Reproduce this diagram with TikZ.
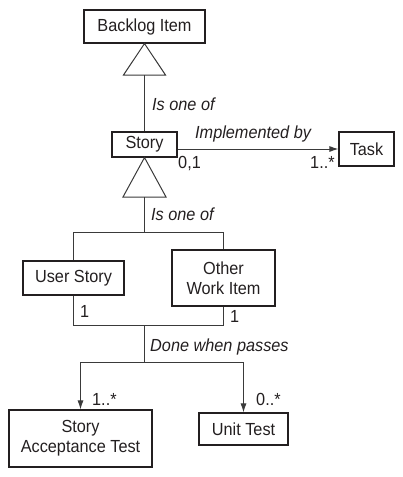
\documentclass[tikz,border=0pt]{standalone}
\usepackage{fontspec}
\setmainfont{Liberation Sans}[FakeStretch=0.93]
\usetikzlibrary{arrows.meta}
\definecolor{ink}{HTML}{231F20}
\definecolor{wire}{HTML}{3A3A3A}
\begin{document}
\begin{tikzpicture}[x=1pt,y=-1pt,
  font=\fontsize{17.5}{20}\selectfont, text=ink,
  box/.style={draw=ink, line width=1.1pt, inner sep=0pt, align=center},
  wire/.style={draw=wire, line width=1pt},
  arr/.style={wire, -{Latex[length=9pt,width=6pt]}},
  lab/.style={anchor=base west, inner sep=0pt},
  ilab/.style={anchor=base west, inner sep=0pt, font=\fontsize{17.5}{20}\selectfont\itshape}]
\useasboundingbox (0,0) rectangle (402,477);

\node[box, minimum width=121pt, minimum height=33pt] (bi) at (144.5,26.5) {Backlog Item};
\node[box, minimum width=65pt, minimum height=25pt] (st) at (144.5,144.5) {Story};
\node[box, minimum width=55pt, minimum height=34pt] (tk) at (366.5,149) {Task};
\node[box, minimum width=101pt, minimum height=34pt] (us) at (73.5,278) {User Story};
\node[box, minimum width=103pt, minimum height=56pt] (ow) at (223.5,278) {Other\\Work Item};
\node[box, minimum width=143pt, minimum height=57pt] (sat) at (80.5,438.5) {Story\\Acceptance Test};
\node[box, minimum width=89pt, minimum height=32pt] (ut) at (243.5,429) {Unit Test};

% generalization 1
\coordinate (t1) at (144.5,75);
\draw[wire] (bi.south) -- ([xshift=21pt]t1) -- ([xshift=-21pt]t1) -- cycle;
\draw[wire] (t1) -- (st.north);

% implemented by
\draw[arr] (st.east |- tk.west) -- (tk.west);

% generalization 2
\coordinate (t2) at (144.5,197);
\draw[wire] (st.south) -- ([xshift=21.5pt]t2) -- ([xshift=-21.5pt]t2) -- cycle;
\coordinate (j1) at (144.5,232);
\draw[wire] (t2) -- (j1);
\draw[wire] (us.north) -- (us.north |- j1) -- (ow.north |- j1) -- (ow.north);

% done when passes
\coordinate (j2) at (144.5,325);
\coordinate (j3) at (144.5,362);
\draw[wire] (us.south) -- (us.south |- j2) -- (ow.south |- j2) -- (ow.south);
\draw[wire] (j2) -- (j3);
\draw[wire] (sat.north |- j3) -- (ut.north |- j3);
\draw[arr] (sat.north |- j3) -- (sat.north);
\draw[arr] (ut.north |- j3) -- (ut.north);

% labels
\node[ilab] (l1) at (152,110) {Is one of};
\node[ilab] (l2) at (195,138) {Implemented by};
\node[lab] (m1) at (178,168) {0,1};
\node[lab] (m2) at (310,168) {1..*};
\node[ilab] (l3) at (151,220) {Is one of};
\node[lab] (m3) at (80,317) {1};
\node[lab] (m4) at (230,322) {1};
\node[ilab] (l4) at (150,351) {Done when passes};
\node[lab] (m5) at (92,405) {1..*};
\node[lab] (m6) at (256,405) {0..*};
\end{tikzpicture}
\end{document}
